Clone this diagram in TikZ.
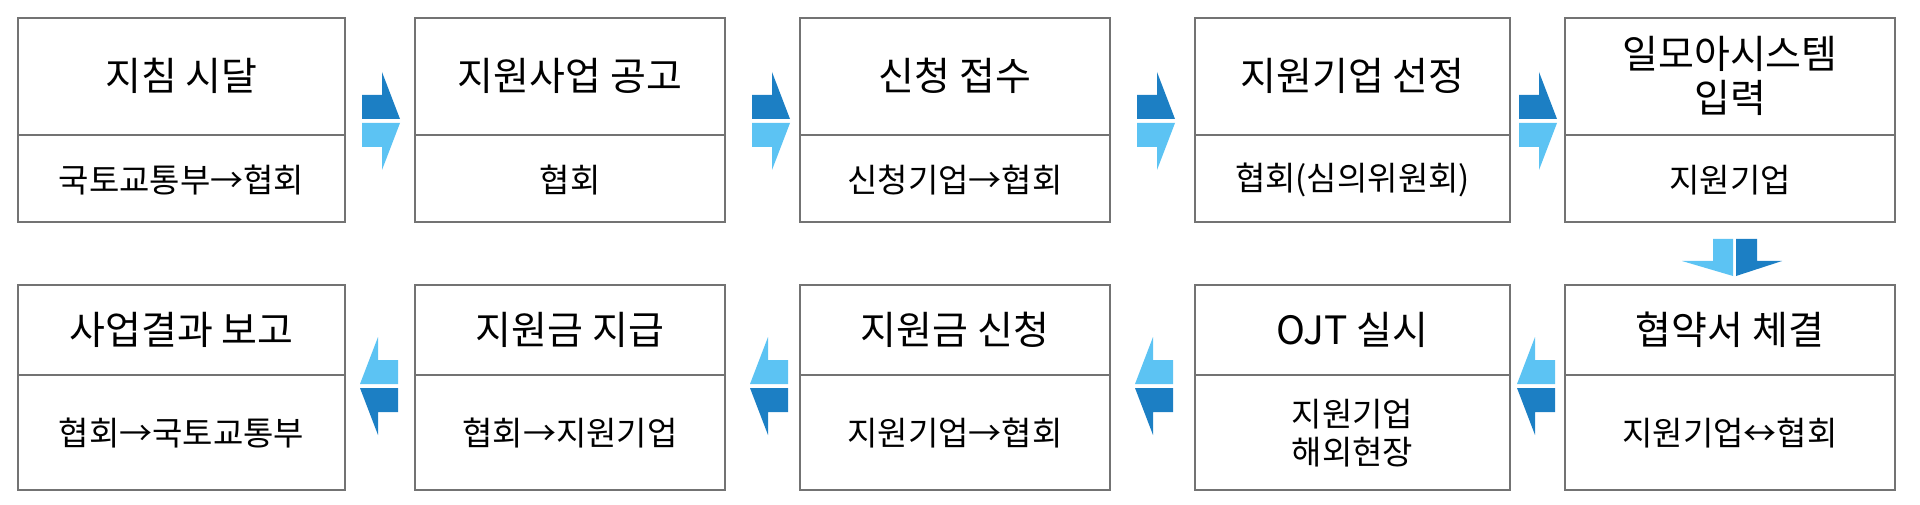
\documentclass[tikz,border=0pt]{standalone}
\usepackage{fontspec}
\setmainfont{Noto Sans CJK KR}
\begin{document}
\begin{tikzpicture}[x=1pt,y=-1pt,
 box/.style={draw=black!55,line width=1.8pt},
 ttl/.style={font=\fontsize{39}{44}\selectfont,align=center},
 sub/.style={font=\fontsize{33}{38}\selectfont,align=center},
 dk/.style={fill=dkb},
 lt/.style={fill=ltb}]
\definecolor{dkb}{HTML}{1C7FC4}
\definecolor{ltb}{HTML}{5CC3F3}
\useasboundingbox (0,0) rectangle (1920,505);
\def\xs{{18,415,800,1195,1565}}
\def\xe{{345,725,1110,1510,1895}}
% row 1
\foreach \i/\t/\s in {0/지침 시달/국토교통부→협회,1/지원사업 공고/협회,2/신청 접수/신청기업→협회,3/지원기업 선정/협회(심의위원회),4/일모아시스템\\입력/지원기업}{
 \pgfmathsetmacro\a{\xs[\i]}\pgfmathsetmacro\b{\xe[\i]}
 \draw[box] (\a,18) rectangle (\b,222);
 \draw[black!55,line width=1.2pt] (\a,135) -- (\b,135);
 \node[ttl] (t\i) at ({(\a+\b)/2},76) {\t};
 \node[sub] (s\i) at ({(\a+\b)/2},180) {\s};
}
% row 2
\foreach \i/\t/\s in {0/사업결과 보고/협회→국토교통부,1/지원금 지급/협회→지원기업,2/지원금 신청/지원기업→협회,3/OJT 실시/지원기업\\해외현장,4/협약서 체결/지원기업↔협회}{
 \pgfmathsetmacro\a{\xs[\i]}\pgfmathsetmacro\b{\xe[\i]}
 \draw[box] (\a,285) rectangle (\b,490);
 \draw[black!55,line width=1.2pt] (\a,375) -- (\b,375);
 \node[ttl] (u\i) at ({(\a+\b)/2},330) {\t};
 \node[sub] (v\i) at ({(\a+\b)/2},433) {\s};
}
% right arrows row 1
\foreach \c in {380,770,1155,1537}{
 \fill[dk] (\c-18,95) -- (\c+2,95) -- (\c+2,72) -- (\c+20,119) -- (\c-18,119) -- cycle;
 \fill[lt] (\c-18,123) -- (\c+20,123) -- (\c+2,170) -- (\c+2,147) -- (\c-18,147) -- cycle;
}
% left arrows row 2
\foreach \c in {380,770,1155,1537}{
 \fill[lt] (\c+18,360) -- (\c-2,360) -- (\c-2,337) -- (\c-20,384) -- (\c+18,384) -- cycle;
 \fill[dk] (\c+18,388) -- (\c-20,388) -- (\c-2,435) -- (\c-2,412) -- (\c+18,412) -- cycle;
}
% down arrow
\fill[lt] (1713,239) -- (1733,239) -- (1733,276) -- (1682,261) -- (1713,261) -- cycle;
\fill[dk] (1736,239) -- (1757,239) -- (1757,261) -- (1782,261) -- (1736,276) -- cycle;
\end{tikzpicture}
\end{document}
